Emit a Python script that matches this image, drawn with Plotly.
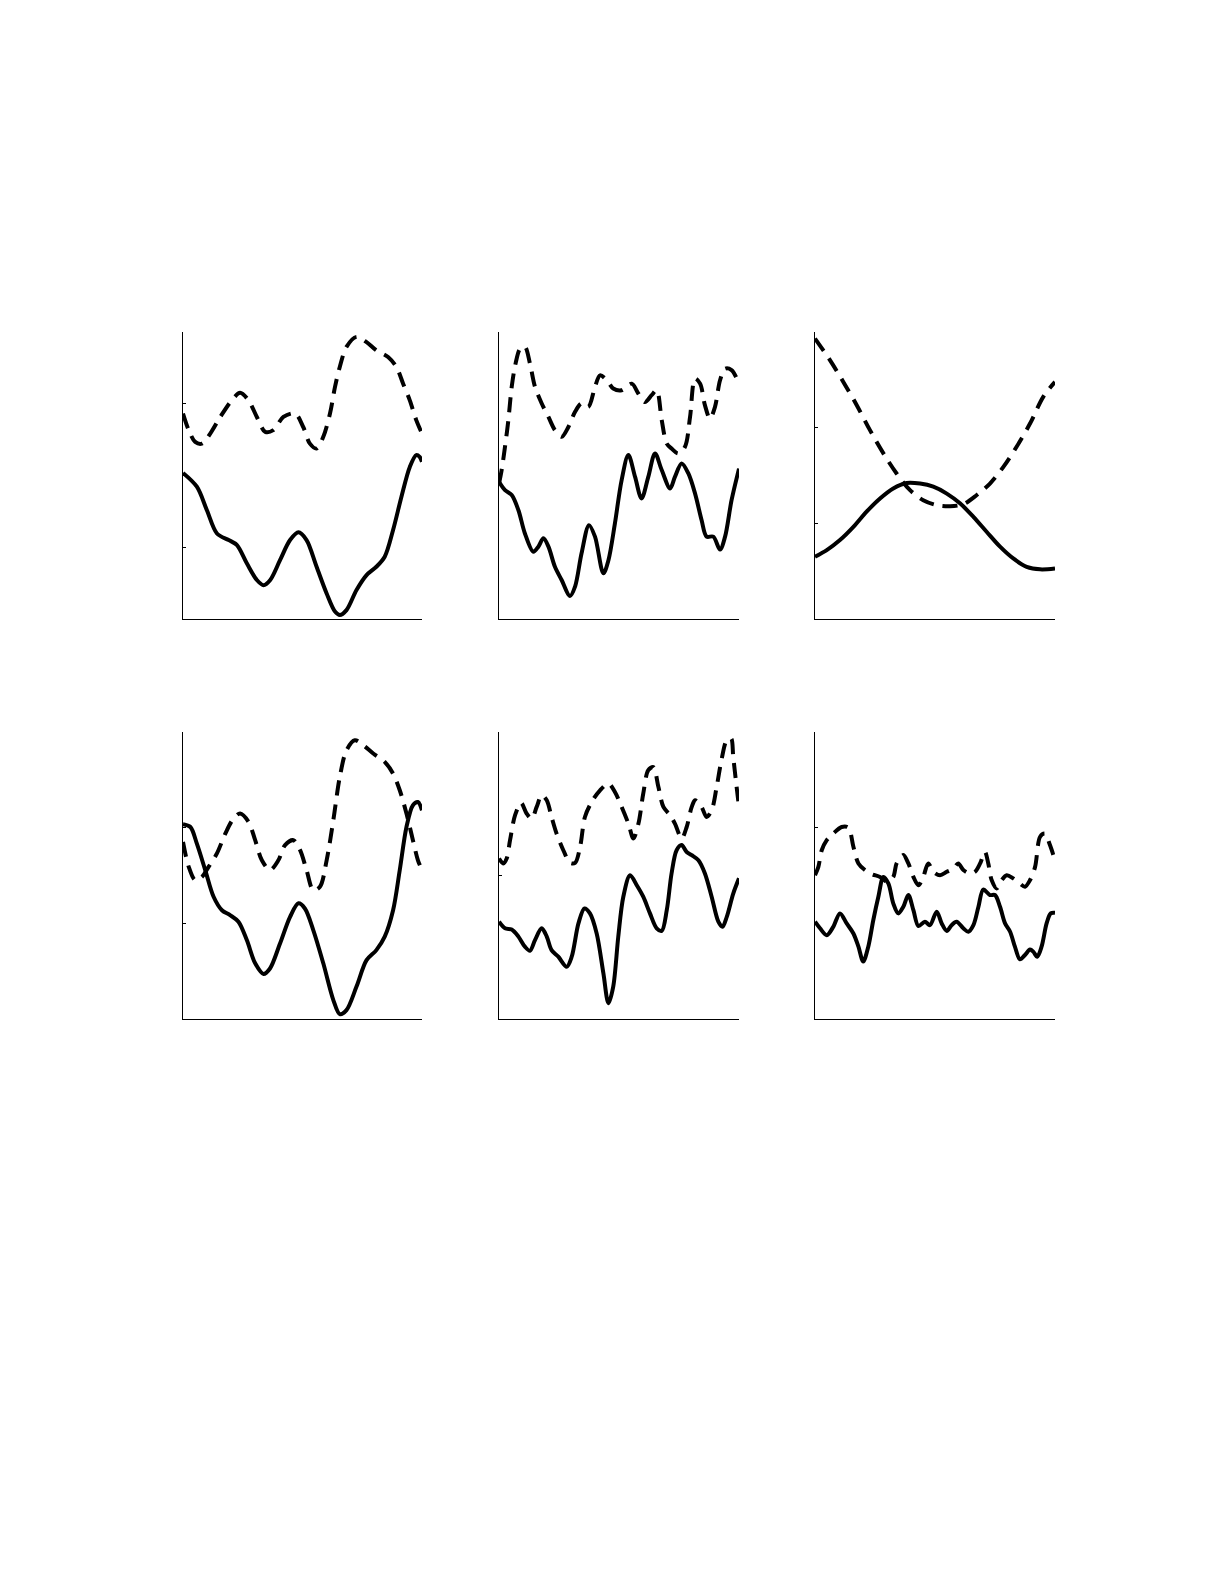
import plotly.graph_objects as go

# ---------------- data (x in 0-100, y in 0-100 of each panel's range) ----------------
p1_solid_x = [0, 5.8, 10.0, 14.2, 19.1, 22.5, 26.7, 30.9, 33.7, 36.5, 40.6, 44.8, 48.3, 51.7, 55.9, 60.1, 63.6, 65.6, 68.4, 72.6, 76.8, 80.9, 84.4, 87.9, 91.4, 94.9, 97.6, 99.0, 100]
p1_solid_y = [50.9, 46.1, 37.9, 29.8, 27.5, 25.8, 19.4, 13.6, 11.8, 13.6, 20.5, 27.5, 30.2, 27.5, 18.2, 8.9, 2.6, 1.4, 3.1, 10.1, 15.3, 18.2, 21.7, 31.0, 42.6, 53.0, 57.1, 56.5, 54.8]
p1_dash_x = [0, 2.4, 5.1, 7.9, 11.4, 15.6, 20.4, 23.9, 27.4, 30.9, 34.4, 37.8, 42.0, 46.9, 50.3, 53.1, 55.9, 58.7, 61.5, 63.6, 65.6, 68.4, 72.6, 76.8, 80.9, 85.8, 89.3, 92.1, 94.9, 97.6, 100]
p1_dash_y = [71.6, 65.8, 61.7, 61.1, 64.6, 70.4, 76.2, 78.8, 76.2, 70.4, 65.2, 65.8, 70.4, 71.6, 66.9, 61.1, 59.4, 63.5, 71.6, 80.9, 87.8, 94.8, 98.3, 96.5, 93.6, 91.3, 87.8, 82.0, 76.2, 69.3, 64.6]

p2_solid_x = [0, 2.5, 5.3, 8.1, 10.8, 14.3, 16.4, 18.5, 20.6, 23.3, 26.1, 29.6, 31.7, 34.4, 37.5, 40.0, 43.5, 45.6, 48.3, 51.1, 53.9, 56.7, 59.4, 62.2, 65.0, 67.8, 71.3, 73.3, 76.1, 78.9, 81.7, 84.4, 86.5, 89.3, 92.1, 94.2, 96.9, 100]
p2_solid_y = [47.8, 44.9, 43.2, 37.9, 29.8, 23.4, 25.2, 28.1, 25.2, 18.2, 13.6, 8.0, 11.3, 22.9, 32.7, 28.7, 15.9, 20.5, 33.3, 48.4, 57.1, 49.5, 42.0, 49.5, 57.7, 51.9, 45.5, 49.5, 54.2, 50.7, 43.7, 34.5, 28.7, 28.7, 24.2, 28.7, 41.4, 52.4]
p2_dash_x = [0, 1.1, 2.5, 3.9, 5.3, 6.9, 8.8, 10.8, 12.9, 15.0, 17.8, 20.6, 23.3, 26.1, 28.9, 31.7, 34.4, 37.2, 40.0, 42.1, 44.9, 47.6, 51.1, 55.3, 58.1, 60.8, 63.6, 65.7, 67.8, 69.9, 71.9, 74.7, 77.5, 79.6, 81.7, 83.8, 85.8, 87.9, 90.0, 92.1, 94.2, 96.9, 100]
p2_dash_y = [47.2, 51.9, 60.0, 69.3, 80.9, 89.0, 94.2, 94.8, 89.0, 80.9, 75.1, 70.4, 65.8, 63.5, 66.9, 72.2, 75.1, 73.9, 80.9, 84.9, 83.2, 80.3, 79.7, 82.0, 78.5, 75.6, 78.0, 79.7, 69.3, 61.1, 59.4, 57.7, 60.0, 70.4, 83.8, 82.0, 74.5, 69.8, 73.9, 83.2, 87.2, 86.7, 82.0]

p3_solid_x = [0, 4.9, 10.4, 16.0, 21.5, 27.1, 32.6, 38.2, 43.8, 49.3, 54.9, 60.4, 66.0, 71.5, 77.1, 82.6, 88.2, 93.8, 100]
p3_solid_y = [21.7, 24.0, 27.5, 32.1, 37.4, 42.0, 45.5, 47.4, 47.2, 46.1, 43.7, 40.3, 35.6, 30.4, 25.2, 21.1, 18.2, 17.3, 17.6]
p3_dash_x = [0, 6.3, 11.8, 17.4, 22.9, 28.5, 34.0, 39.6, 45.1, 50.7, 56.3, 61.8, 67.4, 72.9, 78.5, 84.0, 89.6, 95.1, 100]
p3_dash_y = [97.7, 90.1, 82.6, 74.5, 65.8, 57.7, 50.7, 44.9, 41.4, 39.7, 39.3, 40.0, 43.2, 47.2, 53.0, 60.0, 68.1, 77.4, 82.6]

p4_solid_x = [0, 3.1, 5.8, 9.3, 12.8, 16.3, 19.7, 23.2, 26.7, 30.2, 33.7, 36.4, 40.6, 44.8, 48.3, 51.0, 54.5, 58.7, 62.9, 65.6, 68.4, 72.6, 76.8, 80.9, 84.4, 87.9, 90.7, 93.5, 96.2, 98.3, 100]
p4_solid_y = [67.9, 66.9, 61.1, 51.9, 42.6, 37.9, 36.2, 33.9, 27.5, 19.4, 15.7, 17.6, 26.3, 35.6, 40.3, 38.5, 31.0, 19.4, 6.6, 1.7, 3.1, 11.3, 20.5, 24.0, 28.7, 37.9, 51.9, 66.9, 74.5, 75.6, 72.7]
p4_dash_x = [0, 2.4, 5.1, 7.9, 10.7, 14.2, 17.7, 21.1, 23.9, 27.4, 30.2, 33.0, 36.4, 39.9, 42.7, 46.2, 49.0, 51.7, 54.5, 57.3, 60.1, 62.9, 65.6, 68.4, 71.9, 75.4, 79.6, 84.4, 87.9, 90.7, 93.5, 96.2, 98.3, 100]
p4_dash_y = [61.7, 53.0, 48.4, 49.5, 53.0, 57.7, 64.6, 69.8, 71.6, 68.7, 62.3, 55.3, 51.9, 55.3, 60.6, 62.3, 58.8, 51.9, 44.9, 46.1, 55.3, 69.3, 84.3, 93.6, 97.1, 95.4, 92.5, 89.6, 85.5, 79.7, 71.6, 62.3, 55.3, 51.9]

p5_solid_x = [0, 2.5, 5.3, 8.1, 10.8, 12.9, 15.0, 17.8, 19.9, 21.9, 24.7, 28.2, 30.3, 33.1, 35.6, 37.9, 40.7, 43.5, 45.6, 47.6, 49.7, 51.8, 54.6, 57.4, 60.1, 62.9, 65.7, 67.8, 69.9, 71.9, 74.0, 76.1, 78.2, 80.3, 83.1, 85.8, 88.6, 91.4, 93.1, 94.9, 97.6, 100]
p5_solid_y = [33.9, 31.6, 31.2, 28.7, 25.2, 23.8, 27.5, 31.6, 28.7, 24.0, 21.7, 18.2, 21.7, 33.3, 38.5, 36.8, 29.8, 15.9, 5.5, 11.3, 28.7, 42.6, 50.1, 46.6, 42.6, 36.8, 31.6, 30.7, 37.9, 50.7, 58.8, 60.6, 58.2, 57.1, 55.3, 50.7, 42.6, 33.9, 32.1, 35.6, 43.7, 49.0]
p5_dash_x = [0, 1.8, 3.2, 4.6, 6.7, 9.2, 11.5, 13.6, 15.7, 17.8, 19.9, 21.9, 24.0, 26.8, 29.6, 31.7, 33.8, 35.8, 38.6, 42.1, 45.6, 48.3, 51.1, 53.9, 56.0, 58.1, 60.1, 62.2, 64.3, 66.4, 68.5, 71.3, 73.3, 76.1, 78.2, 80.3, 81.7, 84.4, 86.5, 88.6, 90.7, 92.8, 94.9, 96.7, 97.6, 99.0, 100]
p5_dash_y = [55.9, 54.2, 55.9, 62.3, 71.0, 75.3, 71.6, 69.8, 73.9, 78.0, 76.2, 70.4, 64.6, 58.8, 54.4, 54.4, 60.0, 70.4, 75.6, 79.7, 82.0, 79.1, 73.9, 68.1, 62.9, 68.1, 78.5, 86.7, 87.8, 80.9, 73.9, 71.0, 68.1, 62.9, 66.9, 73.9, 76.2, 73.9, 70.4, 72.7, 80.9, 90.7, 97.1, 97.7, 91.3, 80.9, 73.9]

p6_solid_x = [0, 2.1, 4.9, 7.6, 10.4, 13.2, 16.0, 18.1, 20.1, 22.2, 24.3, 26.4, 28.5, 30.6, 32.6, 34.7, 36.8, 38.9, 41.0, 43.1, 45.8, 47.9, 50.7, 52.8, 54.9, 56.9, 59.0, 61.8, 63.9, 66.0, 68.1, 70.1, 72.9, 75.0, 77.1, 79.2, 81.3, 83.3, 85.4, 87.5, 89.6, 91.0, 92.6, 94.4, 96.5, 98.2, 100]
p6_solid_y = [33.9, 31.6, 29.2, 32.1, 36.8, 33.3, 29.8, 25.2, 20.0, 25.2, 34.5, 42.6, 49.5, 47.2, 40.3, 36.8, 39.1, 43.2, 37.9, 32.4, 33.9, 32.7, 37.4, 33.3, 30.7, 32.7, 33.9, 31.6, 30.4, 32.7, 39.1, 45.1, 43.2, 43.2, 39.1, 33.3, 30.4, 25.2, 20.8, 22.3, 24.2, 23.4, 21.7, 25.2, 33.3, 36.8, 37.0]
p6_dash_x = [0, 1.4, 2.8, 4.9, 7.6, 11.1, 13.9, 16.0, 18.1, 20.8, 23.6, 27.1, 30.1, 32.6, 34.0, 36.8, 38.9, 41.0, 43.1, 45.1, 47.2, 49.3, 52.1, 54.9, 57.6, 59.7, 61.8, 64.6, 66.7, 68.8, 70.8, 72.2, 73.6, 75.7, 77.8, 79.9, 82.6, 85.4, 87.5, 89.6, 91.7, 93.8, 95.8, 97.9, 100]
p6_dash_y = [50.1, 53.0, 58.8, 62.3, 64.6, 66.9, 66.7, 60.0, 54.2, 51.9, 50.5, 49.5, 47.8, 49.5, 54.2, 57.1, 54.2, 49.5, 46.6, 49.5, 54.2, 51.3, 50.1, 51.3, 52.4, 54.2, 51.9, 50.7, 51.3, 54.2, 58.2, 54.2, 48.4, 45.5, 48.4, 50.1, 49.0, 47.2, 46.1, 48.4, 53.0, 63.5, 64.6, 60.6, 55.3]

# y tick positions per panel (panel units)
p1_yticks = [0, 25, 50, 75, 100]
p2_yticks = [0, 50, 100]
p3_yticks = [0, 100 / 3, 200 / 3, 100]
p4_yticks = [0, 100 / 3, 200 / 3, 100]
p5_yticks = [0, 50, 100]
p6_yticks = [0, 100 / 3, 200 / 3, 100]
x_ticks = [0, 100]

panels = [
    (p1_solid_x, p1_solid_y, p1_dash_x, p1_dash_y, p1_yticks),
    (p2_solid_x, p2_solid_y, p2_dash_x, p2_dash_y, p2_yticks),
    (p3_solid_x, p3_solid_y, p3_dash_x, p3_dash_y, p3_yticks),
    (p4_solid_x, p4_solid_y, p4_dash_x, p4_dash_y, p4_yticks),
    (p5_solid_x, p5_solid_y, p5_dash_x, p5_dash_y, p5_yticks),
    (p6_solid_x, p6_solid_y, p6_dash_x, p6_dash_y, p6_yticks),
]

# ---------------- layout geometry ----------------
W, H = 1225, 1585
OFF = 8  # page body margin
col_px = [(183, 422), (499, 739), (815, 1055)]
row_px = [(332, 619), (732, 1019)]

fig = go.Figure()
layout = dict(
    width=W, height=H, margin=dict(l=0, r=0, t=0, b=0),
    paper_bgcolor="white", plot_bgcolor="white", showlegend=False,
)

LW = 4
DASH = "15px,9px"

for i, (sx, sy, dx, dy, yt) in enumerate(panels):
    r, c = divmod(i, 3)
    n = i + 1
    xa = "x" if n == 1 else f"x{n}"
    ya = "y" if n == 1 else f"y{n}"
    fig.add_trace(go.Scatter(x=dx, y=dy, mode="lines", xaxis=xa, yaxis=ya,
                             line=dict(color="black", width=LW, dash=DASH, shape="spline", smoothing=0.9),
                             hoverinfo="skip"))
    fig.add_trace(go.Scatter(x=sx, y=sy, mode="lines", xaxis=xa, yaxis=ya,
                             line=dict(color="black", width=LW, shape="spline", smoothing=0.9),
                             hoverinfo="skip"))
    x0, x1 = col_px[c]
    y0, y1 = row_px[r]
    x0, x1, y0, y1 = x0 - OFF, x1 - OFF, y0 - OFF, y1 - OFF
    common = dict(showgrid=False, zeroline=False, showline=True, linecolor="black", linewidth=1,
                  ticks="inside", ticklen=3, tickwidth=1, tickcolor="black",
                  showticklabels=False, mirror=False, fixedrange=True)
    layout["xaxis" if n == 1 else f"xaxis{n}"] = dict(
        domain=[x0 / W, x1 / W], range=[0, 100], tickvals=x_ticks,
        anchor=ya, **common)
    layout["yaxis" if n == 1 else f"yaxis{n}"] = dict(
        domain=[1 - y1 / H, 1 - y0 / H], range=[0, 100], tickvals=yt,
        anchor=xa, **common)

fig.update_layout(**layout)
fig.write_html("out.html", config={"displayModeBar": False})
